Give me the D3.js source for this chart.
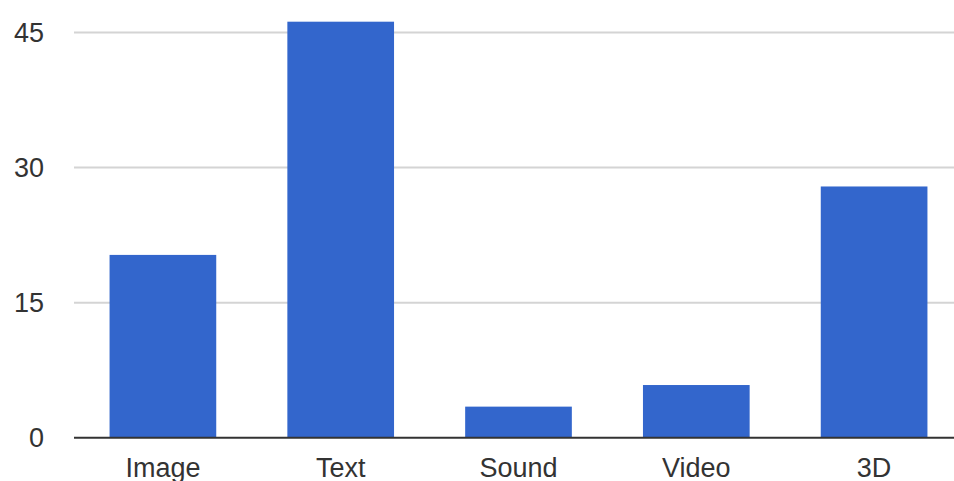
<!DOCTYPE html>
<html>
<head>
<meta charset="utf-8">
<script src="https://cdn.jsdelivr.net/npm/d3@7"></script>
<style>
  body { margin: 0; background: #fff; }
  text { font-family: "Liberation Sans", Arial, sans-serif; }
</style>
</head>
<body>
<div id="chart"></div>
<script>
const categories = ["Image", "Text", "Sound", "Video", "3D"];
const values = [20.3, 46.2, 3.45, 5.85, 27.9];
const yTicks = [0, 15, 30, 45];

const width = 954;
const height = 481;
const margin = { left: 74, right: 0, top: 0, bottom: 0 };

const svg = d3.select("#chart").append("svg")
    .attr("width", width)
    .attr("height", height);

const xScale = d3.scaleBand()
    .domain(categories)
    .range([margin.left, 963])
    .paddingInner(0.4)
    .paddingOuter(0.2);

// 0 at y=437.7, 45 at y=32.5
const yScale = d3.scaleLinear()
    .domain([0, 45])
    .range([437.7, 32.5]);

// gridlines
svg.append("g")
  .selectAll("line")
  .data(yTicks.filter(d => d !== 0))
  .enter().append("line")
    .attr("x1", margin.left)
    .attr("x2", width)
    .attr("y1", d => yScale(d))
    .attr("y2", d => yScale(d))
    .attr("stroke", "#d4d4d4")
    .attr("stroke-width", 2);

// bars
svg.append("g")
  .selectAll("rect")
  .data(categories)
  .enter().append("rect")
    .attr("x", d => xScale(d))
    .attr("width", xScale.bandwidth())
    .attr("y", (d, i) => yScale(values[i]))
    .attr("height", (d, i) => yScale(0) - yScale(values[i]))
    .attr("fill", "#3366cc");

// baseline
svg.append("line")
    .attr("x1", margin.left)
    .attr("x2", width)
    .attr("y1", yScale(0))
    .attr("y2", yScale(0))
    .attr("stroke", "#333")
    .attr("stroke-width", 2);

// y axis labels
const yAxis = d3.axisLeft(yScale)
    .tickValues(yTicks)
    .tickSize(0)
    .tickPadding(0);

const yAxisG = svg.append("g")
    .attr("transform", "translate(44,0)")
    .call(yAxis);
yAxisG.select(".domain").remove();
yAxisG.selectAll("text")
    .attr("font-size", 27)
    .attr("font-family", "Liberation Sans, Arial, sans-serif")
    .attr("fill", "#333");

// x axis labels
const xAxis = d3.axisBottom(xScale)
    .tickSize(0)
    .tickPadding(0);

const xAxisG = svg.append("g")
    .attr("transform", "translate(0,477)")
    .call(xAxis);
xAxisG.select(".domain").remove();
xAxisG.selectAll("text")
    .attr("dy", 0)
    .attr("font-size", 27)
    .attr("font-family", "Liberation Sans, Arial, sans-serif")
    .attr("fill", "#333");
</script>
</body>
</html>
